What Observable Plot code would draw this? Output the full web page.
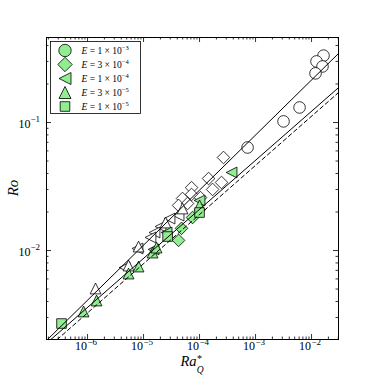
<!DOCTYPE html>
<html><head><meta charset="utf-8">
<script src="https://cdn.jsdelivr.net/npm/d3@7"></script>
<script src="https://cdn.jsdelivr.net/npm/@observablehq/plot@0.6"></script>
<style>
body{margin:0;background:#fff;}
#wrap{position:relative;width:376px;height:376px;}
#wrap svg{position:absolute;left:0;top:0;}
</style></head><body><div id="wrap"></div>
<script>
// ---- data (Ra*_Q, Ro) ----
const circOpen  = [[0.01637,0.333],[0.01227,0.300],[0.01570,0.274],[0.01178,0.242],[0.00611,0.131],[0.00316,0.102],[0.00072,0.0638]];
const diamOpen  = [[2.68e-4,0.0533],[1.45e-4,0.0365],[2.47e-4,0.0340],[1.71e-4,0.0300],[7.2e-5,0.0310],[7.2e-5,0.0274],[4.97e-5,0.0255],[4.22e-5,0.0225],[6.1e-5,0.0233],[1.04e-4,0.0259]];
const diamFill  = [[4.22e-5,0.0120],[7.5e-5,0.0181],[4.77e-5,0.0149]];
const triLOpen  = [[4.22e-5,0.01875],[2.91e-5,0.01778],[2.01e-5,0.0154],[1.57e-5,0.01383],[1.33e-5,0.01265],[7.8e-6,0.01037],[4.58e-6,0.00736]];
const triLFill  = [[3.73e-4,0.0407],[2.58e-5,0.01383],[1.0e-4,0.0246],[1.51e-5,0.0102]];
const triUOpen  = [[1.39e-6,0.00505],[8.15e-6,0.01074],[2.47e-5,0.01655],[4.97e-5,0.0213],[5.4e-6,0.00764]];
const triUFill  = [[8.5e-7,0.00334],[1.45e-6,0.00407],[5.4e-6,0.00661],[8.15e-6,0.0075],[1.45e-5,0.00964],[1.71e-5,0.01055],[1.0e-4,0.0225]];
const sqFill    = [[3.43e-7,0.00269],[1.0e-4,0.0198],[2.69e-5,0.01286]];
// fit lines Ro = coef * Ra^exp
const fitCoef = [1.556, 0.714, 0.656];
const fitExp  = [0.43, 0.383, 0.384];
const fitDashed = [false, false, true];
// axes
const xDomain = [1.85e-7, 0.0303];
const yDomain = [0.002018, 0.4613];
const xTickExp = [-6, -5, -4, -3, -2];
const yTickExp = [-2, -1];
// legend
const legMant = [1, 3, 1, 3, 1];
const legExp  = [-3, -4, -4, -5, -5];
const legShape = ["circle", "diamond", "triLeft", "triUp", "square"];

// ---- layout ----
const W = 376, H = 376, mL = 46, mR = 38, mT = 37, mB = 37;
const fw = W - mL - mR, fh = H - mT - mB;
const FONT = "'Liberation Serif','DejaVu Serif',serif";
const GREEN = "#90ee90";

const half = s => Math.sqrt(s / Math.PI);
const sym = {
  circle:  {draw(c, s){ const a = half(s); c.moveTo(a, 0); c.arc(0, 0, a, 0, 2*Math.PI); c.closePath(); }},
  diamond: {draw(c, s){ const a = half(s); c.moveTo(0,-a); c.lineTo(a,0); c.lineTo(0,a); c.lineTo(-a,0); c.closePath(); }},
  triLeft: {draw(c, s){ const a = half(s); c.moveTo(-a,0); c.lineTo(a,-a); c.lineTo(a,a); c.closePath(); }},
  triUp:   {draw(c, s){ const a = half(s); c.moveTo(0,-a); c.lineTo(a,a); c.lineTo(-a,a); c.closePath(); }},
  square:  {draw(c, s){ const a = half(s); c.moveTo(-a,-a); c.lineTo(a,-a); c.lineTo(a,a); c.lineTo(-a,a); c.closePath(); }}
};
const rSize = {circle: 5.8, diamond: 6.3, triLeft: 5.4, triUp: 5.4, square: 4.8};

const isPow10 = t => Math.abs(Math.log10(t) - Math.round(Math.log10(t))) < 1e-9;
const xAllTicks = d3.scaleLog().domain(xDomain).ticks();
const yAllTicks = d3.scaleLog().domain(yDomain).ticks();
const xMajor = xAllTicks.filter(isPow10), xMinor = xAllTicks.filter(t => !isPow10(t));
const yMajor = yAllTicks.filter(isPow10), yMinor = yAllTicks.filter(t => !isPow10(t));

function dots(data, shape, filled) {
  return Plot.dot(data, {x: d => d[0], y: d => d[1], symbol: sym[shape], r: rSize[shape],
    fill: filled ? GREEN : "white", stroke: "black", strokeWidth: 0.8});
}

const fitMarks = fitCoef.map((c, i) => Plot.line(
  xDomain.map(x => ({x, y: c * Math.pow(x, fitExp[i])})),
  {x: "x", y: "y", stroke: "black", strokeWidth: 1, clip: true,
   strokeDasharray: fitDashed[i] ? "4,3" : null}));

const tk = {stroke: "black", strokeWidth: 0.8};
const chart = Plot.plot({
  width: W, height: H, marginLeft: mL, marginRight: mR, marginTop: mT, marginBottom: mB,
  x: {type: "log", domain: xDomain, axis: null},
  y: {type: "log", domain: yDomain, axis: null},
  style: {background: "white", fontFamily: FONT, color: "#000"},
  marks: [
    dots(circOpen, "circle", false),
    dots(diamOpen, "diamond", false),
    dots(triLOpen, "triLeft", false),
    dots(triUOpen, "triUp", false),
    dots(diamFill, "diamond", true),
    dots(triLFill, "triLeft", true),
    dots(triUFill, "triUp", true),
    dots(sqFill, "square", true),
    ...fitMarks,
    // inward ticks on all four sides
    Plot.tickX(xMajor, {x: d => d, insetTop: fh - 5, ...tk}),
    Plot.tickX(xMajor, {x: d => d, insetBottom: fh - 5, ...tk}),
    Plot.tickX(xMinor, {x: d => d, insetTop: fh - 2.5, ...tk}),
    Plot.tickX(xMinor, {x: d => d, insetBottom: fh - 2.5, ...tk}),
    Plot.tickY(yMajor, {y: d => d, insetRight: fw - 5, ...tk}),
    Plot.tickY(yMajor, {y: d => d, insetLeft: fw - 5, ...tk}),
    Plot.tickY(yMinor, {y: d => d, insetRight: fw - 2.5, ...tk}),
    Plot.tickY(yMinor, {y: d => d, insetLeft: fw - 2.5, ...tk}),
    Plot.frame({stroke: "black", strokeWidth: 1}),
    // tick labels 10^e
    Plot.text(xTickExp, {x: e => 10 ** e, text: () => "10", frameAnchor: "bottom", textAnchor: "end", dx: -0.5, dy: 10, fontSize: 12, fill: "#000"}),
    Plot.text(xTickExp, {x: e => 10 ** e, text: e => "\u2212" + Math.abs(e), frameAnchor: "bottom", textAnchor: "start", dx: 0, dy: 5, fontSize: 9, fill: "#000"}),
    Plot.text(yTickExp, {y: e => 10 ** e, text: () => "10", frameAnchor: "left", textAnchor: "end", dx: -16, dy: 2, fontSize: 12, fill: "#000"}),
    Plot.text(yTickExp, {y: e => 10 ** e, text: e => "\u2212" + Math.abs(e), frameAnchor: "left", textAnchor: "start", dx: -16, dy: -3.5, fontSize: 9, fill: "#000"})
  ]
});
const wrap = document.getElementById("wrap");
wrap.appendChild(chart);

// ---- overlay: legend and axis titles ----
const NS = "http://www.w3.org/2000/svg";
const ov = document.createElementNS(NS, "svg");
ov.setAttribute("width", W); ov.setAttribute("height", H);
ov.setAttribute("font-family", FONT);
wrap.appendChild(ov);
function el(tag, attrs, parent = ov) {
  const e = document.createElementNS(NS, tag);
  for (const k in attrs) e.setAttribute(k, attrs[k]);
  parent.appendChild(e); return e;
}
// legend box
el("rect", {x: 50.5, y: 41.5, width: 90, height: 72, fill: "white", stroke: "black", "stroke-width": 0.8});
const legR = {circle: 6.2, diamond: 7.2, triLeft: 6, triUp: 6, square: 4.8};
legShape.forEach((s, i) => {
  const cy = 50.5 + i * 14;
  const p = d3.path(); sym[s].draw(p, Math.PI * legR[s] ** 2);
  el("path", {d: p.toString(), transform: `translate(65,${cy})`, fill: GREEN, stroke: "black", "stroke-width": 0.8});
  const t = el("text", {x: 81.5, y: cy + 3.2, "font-size": 9.5, fill: "#000"});
  el("tspan", {"font-style": "italic"}, t).textContent = "E";
  el("tspan", {}, t).textContent = ` = ${legMant[i]} \u00d7 10`;
  el("tspan", {dy: -3.8, "font-size": 6.5}, t).textContent = "\u2212" + Math.abs(legExp[i]);
});
// y title
el("text", {x: 0, y: 0, transform: "translate(17.5,188) rotate(-90)", "text-anchor": "middle", "font-size": 15, "font-style": "italic", fill: "#000"}).textContent = "Ro";
// x title Ra*_Q
const ra = el("text", {x: 0, y: 366, "font-size": 14.5, "font-style": "italic", fill: "#000"});
ra.textContent = "Ra";
const raw = ra.getComputedTextLength();
const x0 = 192 - (raw + 7) / 2;
ra.setAttribute("x", x0);
el("text", {x: x0 + raw + 0.5, y: 361.5, "font-size": 10, fill: "#000"}).textContent = "*";
el("text", {x: x0 + raw + 0.2, y: 372.5, "font-size": 9.5, "font-style": "italic", fill: "#000"}).textContent = "Q";
</script>
</body></html>
